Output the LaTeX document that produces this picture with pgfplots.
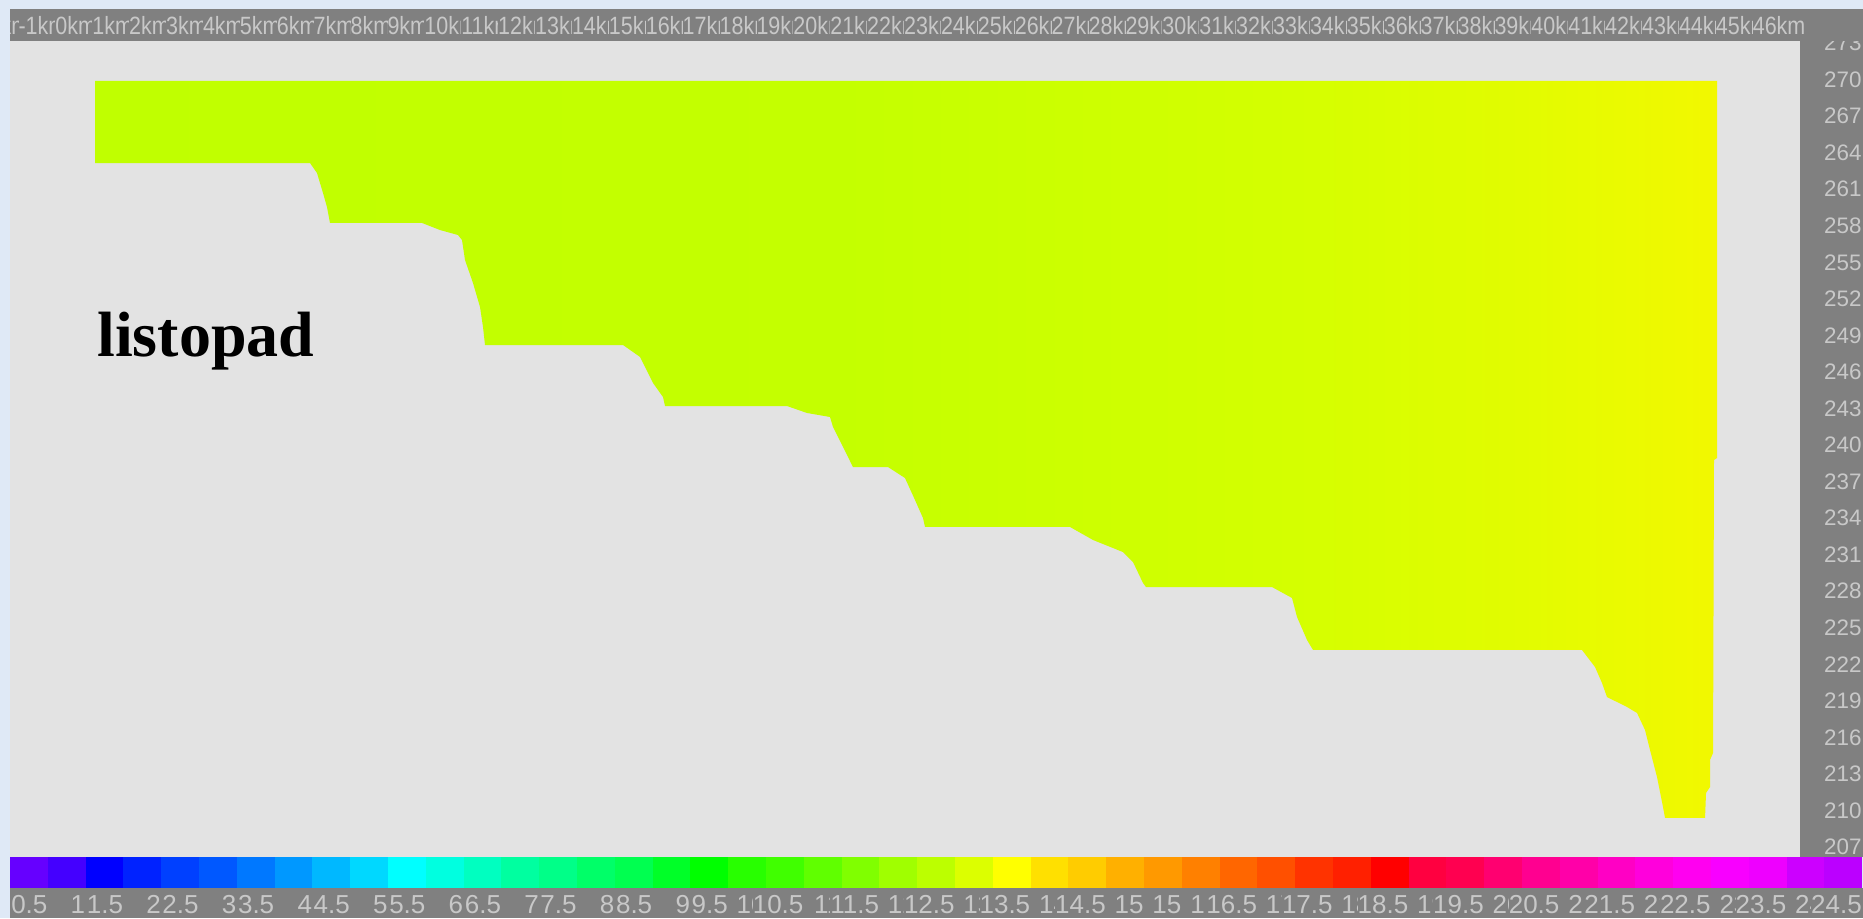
\documentclass[border=0pt]{standalone}
\usepackage{pgfplots}
\pgfplotsset{compat=1.18}
\usepackage{pgfplotstable}
\usepackage{fontspec}
\setmainfont{Liberation Serif}
\newfontfamily\labfont{Liberation Sans}
\newfontfamily\topfont[FakeStretch=0.86]{Liberation Sans}
\definecolor{bgblue}{HTML}{DFE9F6}
\definecolor{plotbg}{HTML}{E3E3E3}
\definecolor{barg}{HTML}{808080}
\definecolor{labc}{HTML}{C8C8C8}
\definecolor{fa}{HTML}{C0FF00}
\definecolor{fb}{HTML}{C4FF00}
\definecolor{fc}{HTML}{D4FF00}
\definecolor{fd}{HTML}{E2FC00}
\definecolor{fe}{HTML}{F2F800}
\pgfdeclarehorizontalshading{fillgrad}{100bp}{color(0bp)=(fa); color(25bp)=(fa); color(48bp)=(fb); color(62bp)=(fc); color(69bp)=(fd); color(75bp)=(fe); color(100bp)=(fe)}

% colorbar colours (half-hour steps)
\def\cbcolors{6600FF,4400FF,0000FF,0022FF,0040FF,0058FF,0078FF,0098FF,00B8FF,00D8FF,00FFFF,00FFE0,00FFC0,00FFA0,00FF88,00FF68,00FF50,00FF28,00FF00,28FF00,40FF00,60FF00,80FF00,A0FF00,BCFF00,DCFF00,FFFF00,FFE000,FFCC00,FFB000,FF9900,FF8000,FF6600,FF5000,FF3300,FF2000,FF0000,FF0040,FF0050,FF0070,FF0090,FF00A8,FF00C4,FF00DC,FF00F0,F800FF,EE00FF,CC00FF,BB00FF}

\pgfplotstableread{
x y
1.084 269.9
1.084 263.15
6.911 263.15
7.100 262.33
7.263 260.69
7.371 259.54
7.452 258.23
9.946 258.23
10.434 257.65
10.921 257.24
11.030 256.83
11.111 255.19
11.328 253.30
11.518 251.33
11.599 249.69
11.653 248.21
15.394 248.21
15.854 247.23
16.206 245.09
16.477 243.94
16.532 243.20
19.837 243.20
20.379 242.63
21.003 242.30
21.084 241.48
21.355 239.84
21.626 238.19
22.575 238.19
23.035 237.29
23.307 235.48
23.523 234.00
23.578 233.27
27.507 233.27
28.131 232.20
28.943 231.21
29.214 230.39
29.485 228.67
29.566 228.34
32.981 228.34
33.523 227.44
33.659 225.88
33.930 223.99
34.093 223.17
41.382 223.17
41.735 221.77
41.924 220.46
42.059 219.31
42.602 218.49
42.873 218.00
43.090 216.60
43.225 214.96
43.415 212.74
43.577 210.28
43.632 209.38
44.716 209.38
44.743 211.43
44.851 211.92
44.851 214.14
44.933 214.71
44.959 238.77
45.041 238.93
45.041 269.9
}\profile

\begin{document}
\begin{tikzpicture}
\begin{scope}[x=0.5pt,y=-0.5pt]
\path[use as bounding box, fill=bgblue] (0,0) rectangle (1863,918);
\fill[plotbg] (10,41) rectangle (1800,857);
\end{scope}

\begin{axis}[at={(5pt,-20.5pt)}, anchor=north west, scale only axis,
  width=895pt, height=408pt,
  xmin=-1.2195, xmax=47.2900, ymin=206.174, ymax=273.169,
  hide axis]
\addplot[draw=none, shading=fillgrad] table {\profile} -- cycle;
\end{axis}

\begin{scope}[x=0.5pt,y=-0.5pt]
% listopad label
\node[anchor=base west, inner sep=0pt, font=\fontsize{32}{32}\selectfont\bfseries] at (97,356) {listopad};
% right bar with labels
\fill[barg] (1800,41) rectangle (1863,857);
\foreach \v in {273,270,...,207}{
  \node[anchor=east, inner sep=0pt, text=labc, font=\labfont\fontsize{11.2}{11.2}\selectfont] at (1862,{79.6+12.18*(270-\v)}) {\v};
}
% top bar with labels
\fill[barg] (10,9) rectangle (1863,41);
\begin{scope}
\clip (10,9) rectangle (1863,41);
\foreach \k in {-2,...,46}{
  \node[anchor=base west, inner xsep=0pt, inner ysep=3pt, fill=barg, text=labc, font=\topfont\fontsize{12.5}{12.5}\selectfont] at ({55+36.9*\k},34) {\k km};
}
\end{scope}
% colour bar
\foreach \c [count=\i from 0] in \cbcolors {
  \definecolor{cbc}{HTML}{\c}
  \fill[cbc] ({10+37.8*\i},857) rectangle ({10+37.8*(\i+1)},888);
}
% bottom bar with labels
\fill[barg] (10,888) rectangle (1863,918);
\begin{scope}
\clip (10,888) rectangle (1863,918);
\foreach \k in {1,...,49}{
  \pgfmathtruncatemacro\h{floor(\k/2)}
  \pgfmathtruncatemacro\odd{mod(\k,2)}
  \ifnum\k=31 \def\t{15}\else\ifnum\odd=1 \edef\t{\h.5}\else\edef\t{\h}\fi\fi
  \node[anchor=base east, inner xsep=0pt, inner ysep=2pt, fill=barg, text=labc, font=\labfont\fontsize{13}{13}\selectfont] at ({10+37.8*\k},913) {\t};
}
\end{scope}
\end{scope}
\end{tikzpicture}
\end{document}
